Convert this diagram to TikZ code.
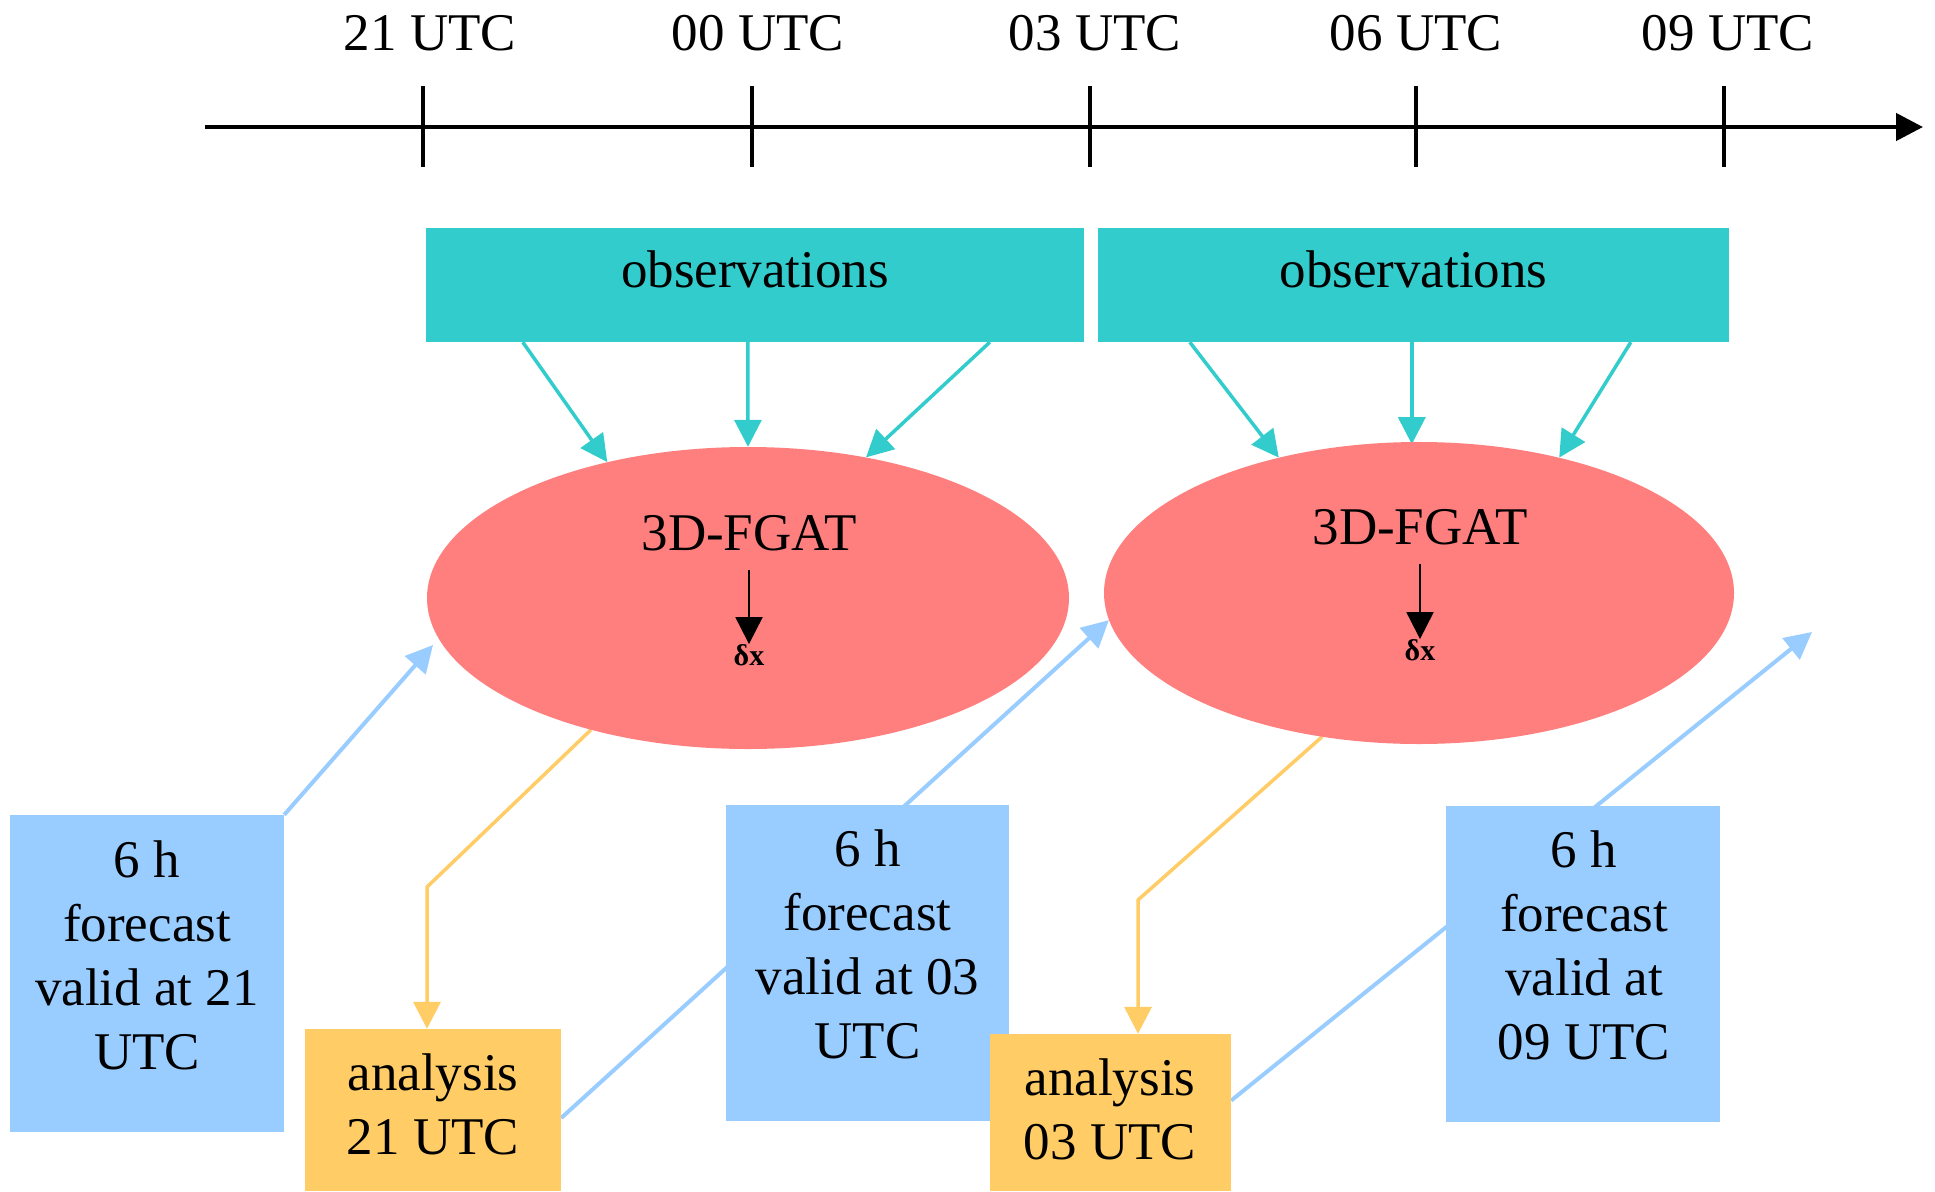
\documentclass[tikz,border=0pt]{standalone}
\usepackage{fontspec}
\setmainfont{Liberation Serif}
\usetikzlibrary{arrows.meta,shapes.geometric}
\definecolor{tealc}{RGB}{51,204,204}
\definecolor{pinkc}{RGB}{255,127,127}
\definecolor{bluec}{RGB}{153,204,255}
\definecolor{orangec}{RGB}{255,204,102}
\pgfdeclarelayer{bg}
\pgfsetlayers{bg,main}
\begin{document}
\begin{tikzpicture}[x=1pt,y=-1pt,
  txt/.style={font=\fontsize{53}{64}\selectfont, inner sep=0pt, align=center},
  smalltxt/.style={font=\fontsize{30}{34}\selectfont\bfseries, inner sep=0pt},
  obsbox/.style={fill=tealc, draw=none, minimum height=114pt, inner sep=0pt},
  ellnode/.style={ellipse, fill=pinkc, draw=none, inner sep=0pt, minimum height=302pt},
  fcbox/.style={fill=bluec, draw=none, inner sep=0pt},
  anbox/.style={fill=orangec, draw=none, inner sep=0pt},
  arrtip/.style={-{Triangle[length=27pt,width=27pt]}},
  obsarr/.style={arrtip, draw=tealc, line width=3.5pt},
  fcarr/.style={arrtip, draw=bluec, line width=4pt},
  anarr/.style={arrtip, draw=orangec, line width=3.5pt},
  dxarr/.style={arrtip, draw=black, line width=2pt},
  axisline/.style={arrtip, draw=black, line width=4.5pt},
  tickline/.style={draw=black, line width=4pt}
]
\useasboundingbox (0,0) rectangle (1935,1191);

% timeline
\coordinate (t0) at (205,127);
\coordinate (t1) at (1923,127);
\draw[axisline] (t0) -- (t1);
\draw[tickline] (423,86) -- (423,167);
\draw[tickline] (752,86) -- (752,167);
\draw[tickline] (1090,86) -- (1090,167);
\draw[tickline] (1416,86) -- (1416,167);
\draw[tickline] (1724,86) -- (1724,167);
\node[txt] (l21) at (430,33) {21 UTC};
\node[txt] (l00) at (758,33) {00 UTC};
\node[txt] (l03) at (1095,33) {03 UTC};
\node[txt] (l06) at (1416,33) {06 UTC};
\node[txt] (l09) at (1728,33) {09 UTC};

% observations
\node[obsbox, minimum width=658pt] (obs1) at (755,285) {};
\node[obsbox, minimum width=631pt] (obs2) at (1413.5,285) {};
\node[txt] (obst1) at (755,269) {observations};
\node[txt] (obst2) at (1413.5,269) {observations};

% ellipses
\node[ellnode, minimum width=642pt] (ell1) at (748,598) {};
\node[ellnode, minimum width=630pt] (ell2) at (1419,593) {};
\node[txt] (fg1) at (749,533) {3D-FGAT};
\node[txt] (fg2) at (1420,527) {3D-FGAT};
\node[smalltxt] (dx1) at (749,655) {δx};
\node[smalltxt] (dx2) at (1420,650) {δx};
\draw[dxarr] ([yshift=-19pt]fg1.south) -- (dx1.north);
\draw[dxarr] ([yshift=-19pt]fg2.south) -- (dx2.north);

% forecast boxes
\node[fcbox, minimum width=274pt, minimum height=317pt] (b1) at (147,973.5) {};
\node[fcbox, minimum width=283pt, minimum height=316pt] (b2) at (867.5,962.5) {};
\node[fcbox, minimum width=274pt, minimum height=316pt] (b3) at (1583,964) {};
\node[txt] (bt1) at (147,955) {6 h\\forecast\\valid at 21\\UTC};
\node[txt] (bt2) at (867.5,944) {6 h\\forecast\\valid at 03\\UTC};
\node[txt] (bt3) at (1584,945) {6 h\\forecast\\valid at\\09 UTC};

% analysis boxes
\node[anbox, minimum width=256pt, minimum height=162pt] (an1) at (433,1110) {};
\node[anbox, minimum width=241pt, minimum height=157pt] (an2) at (1110.5,1112.5) {};
\node[txt] (at1) at (433,1104) {analysis\\21 UTC};
\node[txt] (at2) at (1110,1109) {analysis\\03 UTC};

% free ends and bends
\coordinate (f1) at (433,645);
\coordinate (f3) at (1812,632);
\coordinate (k1) at (427,887);
\coordinate (k2) at (1138,900);

\begin{pgfonlayer}{bg}
% observation arrows
\draw[obsarr] ([xshift=97pt]obs1.south west) -- (ell1.136.7);
\draw[obsarr] ([xshift=322pt]obs1.south west) -- (ell1.north);
\draw[obsarr] ([xshift=564pt]obs1.south west) -- (ell1.50.1);
\draw[obsarr] ([xshift=92pt]obs2.south west) -- (ell2.136.2);
\draw[obsarr] ([xshift=314pt]obs2.south west) -- ++(0,102);
\draw[obsarr] ([xshift=533pt]obs2.south west) -- (ell2.44.8);
% forecast arrows
\draw[fcarr] (b1.north east) -- (f1);
\draw[fcarr] ([yshift=-8pt]an1.east) -- (ell2.185.6);
\draw[fcarr] ([yshift=12pt]an2.east) -- (f3);
% analysis arrows
\draw[anarr] (ell1.220.8) -- (k1) -- (k1 |- an1.north);
\draw[anarr] (ell2.236.6) -- (k2) -- (k2 |- an2.north);
\end{pgfonlayer}
\end{tikzpicture}
\end{document}
